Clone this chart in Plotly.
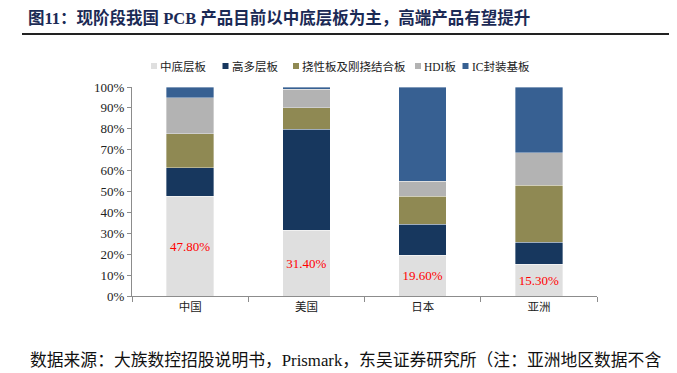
import plotly.graph_objects as go

categories = ["中国", "美国", "日本", "亚洲"]
series_names = ["中底层板", "高多层板", "挠性板及刚挠结合板", "HDI板", "IC封装基板"]
low_layer = [47.8, 31.4, 19.6, 15.3]
high_multi = [13.5, 48.4, 14.7, 10.5]
flex = [16.4, 10.2, 13.5, 27.2]
hdi = [17.2, 8.9, 7.0, 15.6]
ic_sub = [5.1, 1.1, 45.2, 31.4]
label_text = ["47.80%", "31.40%", "19.60%", "15.30%"]

colors = ["#DFDFDF", "#17375E", "#8F8953", "#B3B3B3", "#376092"]
values = [low_layer, high_multi, flex, hdi, ic_sub]

SERIF = "Liberation Serif, Noto Sans CJK SC, serif"

# figure geometry (page body has an 8px margin, so coordinates are shifted)
OFF = 8
FW, FH = 669, 365
L, T, PW, PH = 124, 79, 465, 209


def px(xs):
    return (xs - OFF - L) / PW


def py(ys):
    return (T + PH - (ys - OFF)) / PH


fig = go.Figure()
for i, (name, vals) in enumerate(zip(series_names, values)):
    kw = {}
    if i == 0:
        kw = dict(text=label_text, textposition="inside", insidetextanchor="middle",
                  textfont=dict(color="#FF0000", size=13, family=SERIF),
                  textangle=0, constraintext="none")
    fig.add_trace(go.Bar(
        x=categories, y=vals, name=name, showlegend=False,
        marker=dict(color=colors[i], line=dict(color="rgba(255,255,255,0.6)", width=0.6)),
        hoverinfo="skip", **kw))

fig.update_layout(
    barmode="stack",
    bargap=0.59,
    width=FW, height=FH,
    margin=dict(l=L, r=FW - L - PW, t=T, b=FH - T - PH, autoexpand=False),
    paper_bgcolor="white", plot_bgcolor="white",
    font=dict(family=SERIF, size=12, color="#222222"),
    showlegend=False,
    title=dict(text="<b>图11：现阶段我国 PCB 产品目前以中底层板为主，高端产品有望提升</b>",
               x=(28 - OFF) / FW, xref="container", xanchor="left",
               y=1 - (18 - OFF) / FH, yref="container", yanchor="middle",
               font=dict(size=16.5, color="#1B2A55", family=SERIF)),
)

fig.update_xaxes(showline=True, linecolor="#8C8C8C", linewidth=1,
                 ticks="outside", tickson="boundaries", ticklen=5, tickcolor="#8C8C8C",
                 tickfont=dict(size=11.5, color="#222222"), showgrid=False)
fig.update_yaxes(range=[0, 100], dtick=10, ticksuffix="%", showline=True,
                 linecolor="#8C8C8C", linewidth=1, ticks="outside", ticklen=4,
                 tickcolor="#8C8C8C", showgrid=False, zeroline=False,
                 tickfont=dict(size=13, color="#222222"))

# rule under title
fig.add_shape(type="line", xref="paper", yref="paper",
              x0=px(22), x1=px(685), y0=py(34), y1=py(34),
              line=dict(color="#222222", width=2))

# legend drawn as small squares + text
legend_sq_x = [151, 222.5, 293, 415, 462.5]
for name, col, sx in zip(series_names, colors, legend_sq_x):
    fig.add_shape(type="rect", xref="paper", yref="paper",
                  x0=px(sx), x1=px(sx + 6), y0=py(69), y1=py(63),
                  fillcolor=col, line=dict(width=0))
    fig.add_annotation(text=name, xref="paper", yref="paper",
                       x=px(sx + 8), y=py(66), xanchor="left", yanchor="middle",
                       showarrow=False, borderpad=0,
                       font=dict(size=11.5, color="#222222", family=SERIF))

fig.add_annotation(text="数据来源：大族数控招股说明书，Prismark，东吴证券研究所（注：亚洲地区数据不含",
                   xref="paper", yref="paper", x=px(28), y=py(360),
                   xanchor="left", yanchor="middle", showarrow=False,
                   font=dict(size=16.8, color="#111111", family=SERIF))

fig.write_html("out.html")
